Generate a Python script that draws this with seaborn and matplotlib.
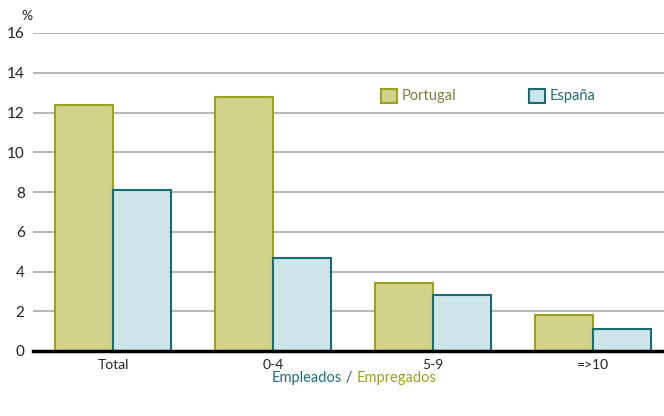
import matplotlib
matplotlib.use("Agg")
import matplotlib.pyplot as plt
import seaborn as sns
import pandas as pd
from matplotlib.patches import Patch

categories = ["Total", "0-4", "5-9", "=>10"]
portugal = [12.4, 12.8, 3.4, 1.8]
espana = [8.1, 4.7, 2.8, 1.1]
series = ["Portugal", "España"]
yticks = [0, 2, 4, 6, 8, 10, 12, 14, 16]

df = pd.DataFrame({
    "cat": categories * 2,
    "val": portugal + espana,
    "country": [series[0]] * 4 + [series[1]] * 4,
})

sns.set_theme(style="white")
plt.rcParams['font.family'] = ['Lato', 'DejaVu Sans']

fills = {"Portugal": "#d2d38a", "España": "#cde6eb"}
edges = {"Portugal": "#9aa21f", "España": "#1c6b74"}
txtc = {"Portugal": "#7f7f3e", "España": "#1f6e78"}

fig = plt.figure(figsize=(6.64, 4.16), dpi=100)
ax = fig.add_axes([33/664, 1 - 351/416, 1 - 33/664, (351 - 33)/416])

sns.barplot(data=df, x="cat", y="val", hue="country", order=categories,
            hue_order=series, palette=fills, width=0.725, ax=ax,
            legend=False, saturation=1)

for i, cont in enumerate(ax.containers):
    for p in cont.patches:
        p.set_edgecolor(edges[series[i]])
        p.set_linewidth(1.5)

ax.set_xlim(-0.5, 3.444)
ax.set_ylim(0, 16)
ax.set_yticks(yticks)
ax.set_yticklabels([str(t) for t in yticks], fontsize=11, color="#222222")
ax.yaxis.grid(True, color="#aaaaaa", linewidth=1.2)
ax.set_axisbelow(True)
ax.tick_params(axis="y", length=0, pad=6)
ax.tick_params(axis="x", length=0, pad=6, labelsize=10, labelcolor="#222222")
for s in ["left", "right", "top"]:
    ax.spines[s].set_visible(False)
ax.spines["bottom"].set_color("black")
ax.spines["bottom"].set_linewidth(2.5)
ax.set_xlabel("")
ax.set_ylabel("")

fig.text(27/664, 1 - 16/416, "%", fontsize=10, color="#222222", ha="center", va="center")

handles = [Patch(facecolor=fills[s], edgecolor=edges[s], linewidth=1.5) for s in series]
leg = fig.legend(handles, series, loc="center left", bbox_to_anchor=(368/664, 1 - 96/416),
                 bbox_transform=fig.transFigure, frameon=False,
                 ncol=2, columnspacing=5.0, handlelength=1.1, handleheight=1.1, handletextpad=0.3,
                 fontsize=10.5)
for t, s in zip(leg.get_texts(), series):
    t.set_color(txtc[s])

# axis title in two colours
y_t = 1 - 378/416
t1 = fig.text(0.0, y_t, "Empleados", fontsize=10.5, color="#1f6e78", va="center")
fig.canvas.draw()
r = fig.canvas.get_renderer()
w1 = t1.get_window_extent(r).width
t2 = fig.text(0, y_t, " / ", fontsize=10.5, color="#1f5f68", va="center")
w2 = t2.get_window_extent(r).width
t3 = fig.text(0, y_t, "Empregados", fontsize=10.5, color="#9aa21f", va="center")
w3 = t3.get_window_extent(r).width
total = w1 + w2 + w3
x0 = 354 - total / 2
t1.set_x(x0 / 664)
t2.set_x((x0 + w1) / 664)
t3.set_x((x0 + w1 + w2) / 664)

fig.savefig("out.png", dpi=100)
